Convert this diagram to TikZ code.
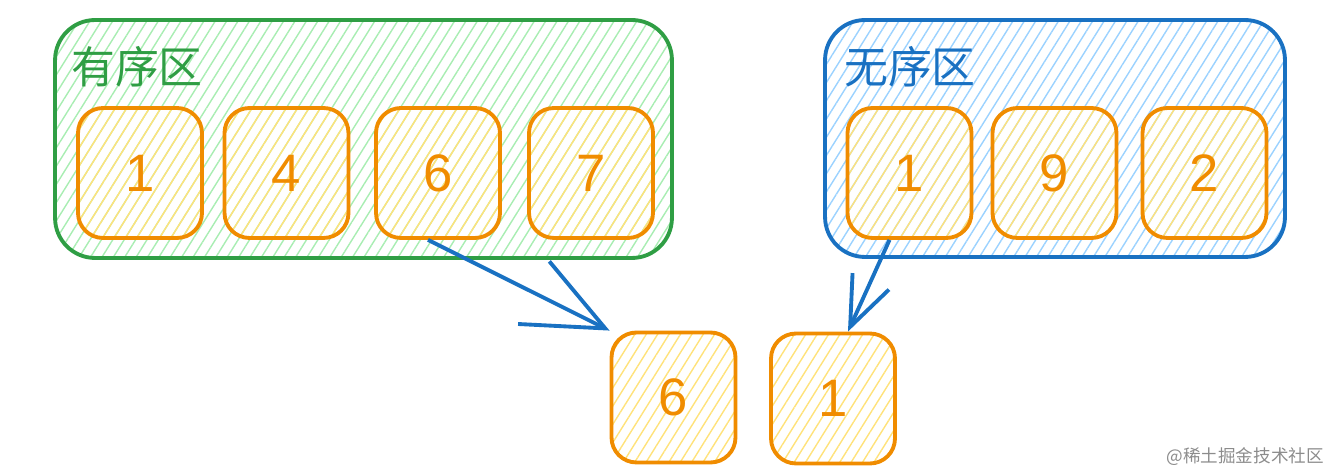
\documentclass[tikz,border=0pt]{standalone}
\usepackage{fontspec}
\setmainfont{Liberation Sans}
\newfontfamily\cjk{Noto Sans CJK SC}
\usetikzlibrary{patterns.meta,arrows.meta}

\definecolor{zonegreen}{HTML}{2F9E44}
\definecolor{hatchgreen}{HTML}{A8EDB2}
\definecolor{zoneblue}{HTML}{1971C2}
\definecolor{hatchblue}{HTML}{9BD2FF}
\definecolor{cellorange}{HTML}{F08C00}
\definecolor{hatchyellow}{HTML}{FFE27A}

\tikzset{
  zone/.style={draw,line width=2.2pt,rounded corners=0.8cm,
    pattern={Lines[angle=58,distance=5.5pt,line width=0.8pt]}},
  cell/.style={draw=cellorange,line width=2.2pt,rounded corners=0.5cm,
    minimum width=2.48cm,minimum height=2.6cm,text=cellorange,
    pattern={Lines[angle=58,distance=5.5pt,line width=0.8pt]},pattern color=hatchyellow,
    font=\fontsize{30}{30}\selectfont},
  zonelabel/.style={font=\cjk\fontsize{25}{25}\selectfont},
  move/.style={draw=zoneblue,line width=2.2pt}
}

\begin{document}
\begin{tikzpicture}[x=0.02cm,y=-0.02cm]
        \useasboundingbox (0,0) rectangle (1338,475);
        % zones
        \node at (363.5,139) [zone,draw=zonegreen,pattern color=hatchgreen,
          minimum width=12.34cm,minimum height=4.76cm] (sorted) {};
        \node at (1055,138.5) [zone,draw=zoneblue,pattern color=hatchblue,
          minimum width=9.2cm,minimum height=4.74cm] (unsorted) {};
        \node at (137,67) [zonelabel,text=zonegreen] (sortedlabel) {有序区};
        \node at (910,67) [zonelabel,text=zoneblue] (unsortedlabel) {无序区};
        % sorted cells
        \node at (140,173) [cell] (s1) {1};
        \node at (286.5,173) [cell] (s4) {4};
        \node at (438,173) [cell] (s6) {6};
        \node at (591,173) [cell] (s7) {7};
        % unsorted cells
        \node at (909.5,173) [cell] (u1) {1};
        \node at (1054.5,173) [cell] (u9) {9};
        \node at (1204.5,173) [cell] (u2) {2};
        % picked cells
        \node at (673.5,397.5) [cell] (p6) {6};
        \node at (833,398.5) [cell] (p1) {1};
        \draw[move,-{Straight Barb[length=1.6cm,width=1.4cm]}] ([xshift=-0.2cm]s6.south) -- (p6.north west);
        \draw[move,-{Straight Barb[length=1cm,width=0.8cm]}] ([xshift=-0.4cm]u1.south) -- ([xshift=0.3cm]p1.north);
        \node at (1330,457) [anchor=east,text=black!45,font=\cjk\fontsize{10}{10}\selectfont] (mark) {@稀土掘金技术社区};
\end{tikzpicture}
\end{document}
